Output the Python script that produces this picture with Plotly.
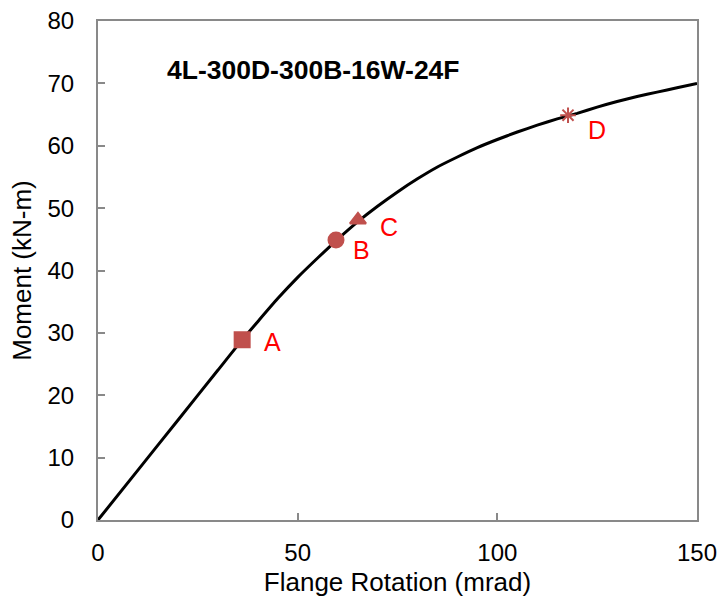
import plotly.graph_objects as go

# Curve data (Flange rotation in mrad, moment in kN-m)
rotation = [0, 10, 20, 30, 36, 40, 45, 50, 55, 60, 65, 70, 75, 80, 85, 90, 95, 100,
            105, 110, 115, 120, 125, 130, 135, 140, 145, 150]
moment = [0, 8.0, 16.0, 24.0, 28.8, 31.8, 35.5, 38.9, 42.0, 45.0, 47.8, 50.3, 52.6, 54.7,
          56.6, 58.2, 59.7, 61.0, 62.2, 63.3, 64.3, 65.2, 66.2, 67.1, 67.9, 68.6, 69.3, 70.0]

# Key points
pt_labels = ["A", "B", "C", "D"]
pt_x = [36.1, 59.6, 65.1, 117.7]
pt_y = [28.9, 44.9, 48.1, 64.9]
pt_symbols = ["square", "circle", "triangle-up", "asterisk-open"]
pt_sizes = [15, 15, 14, 13]
label_x = [43.8, 66.1, 72.9, 125.0]
label_y = [28.5, 43.3, 47.0, 62.5]

title_text = "4L-300D-300B-16W-24F"
x_ticks = [0, 50, 100, 150]
y_ticks = [0, 10, 20, 30, 40, 50, 60, 70, 80]

FONT = "Arial, Liberation Sans"

fig = go.Figure()
fig.add_trace(go.Scatter(x=rotation, y=moment, mode="lines",
                         line=dict(color="black", width=3, shape="spline", smoothing=0.6),
                         showlegend=False, hoverinfo="skip"))
for i in range(len(pt_labels)):
    fig.add_trace(go.Scatter(x=[pt_x[i]], y=[pt_y[i]], mode="markers",
                             marker=dict(symbol=pt_symbols[i], size=pt_sizes[i], color="#C0504D",
                                         line=dict(color="#C0504D", width=2)),
                             showlegend=False))
    fig.add_annotation(x=label_x[i], y=label_y[i], text=pt_labels[i], showarrow=False,
                       font=dict(family=FONT, size=25, color="#FF0000"))

fig.add_annotation(x=0.112, y=0.902, xref="paper", yref="paper", text="<b>%s</b>" % title_text,
                   showarrow=False, xanchor="left", yanchor="middle",
                   font=dict(family=FONT, size=26.5, color="black"))

axis_common = dict(showgrid=False, zeroline=False, showline=True, linecolor="#898989", linewidth=2,
                   mirror=True, ticks="inside", ticklen=7, tickcolor="#898989", tickwidth=2,
                   automargin=False,
                   tickfont=dict(family=FONT, size=24, color="black"))
fig.update_xaxes(range=[0, 150], tickvals=x_ticks, ticklabelstandoff=10,
                 title=dict(text="Flange Rotation (mrad)", standoff=8,
                            font=dict(family=FONT, size=26, color="black")),
                 **axis_common)
fig.update_yaxes(range=[0, 80], tickvals=y_ticks, ticklabelstandoff=17,
                 title=dict(text="Moment (kN-m)", standoff=8,
                            font=dict(family=FONT, size=26, color="black")),
                 **axis_common)
fig.update_layout(width=719, height=601, margin=dict(l=98, r=22, t=21, b=81),
                  plot_bgcolor="white", paper_bgcolor="white")
fig.write_html("out.html")
